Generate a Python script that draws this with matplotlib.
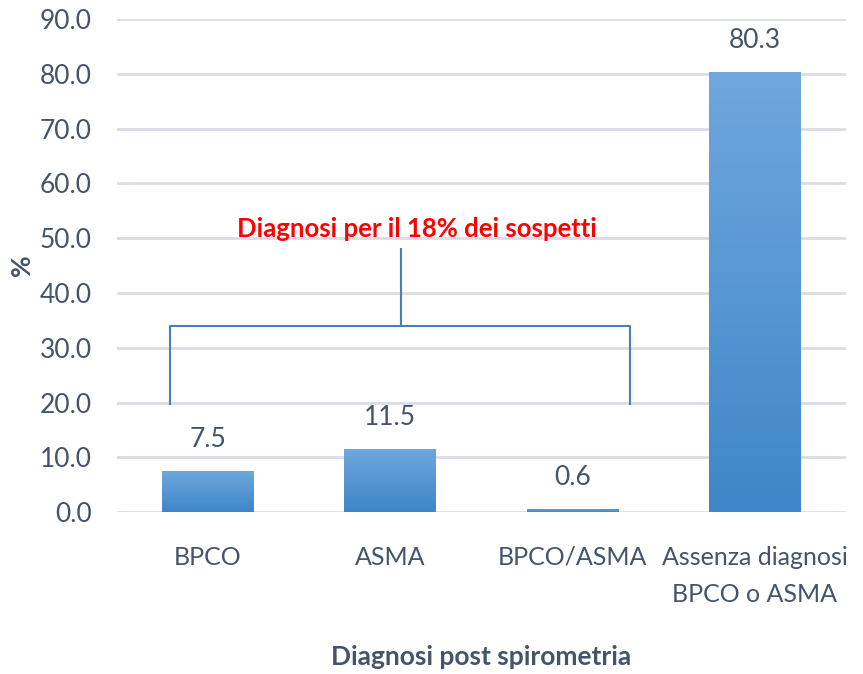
import numpy as np
import matplotlib.pyplot as plt
from matplotlib.patches import Rectangle
from matplotlib.colors import LinearSegmentedColormap

categories = ["BPCO", "ASMA", "BPCO/ASMA", "Assenza diagnosi\nBPCO o ASMA"]
values = [7.5, 11.5, 0.6, 80.3]
yticks = [0, 10, 20, 30, 40, 50, 60, 70, 80, 90]
note = "Diagnosi per il 18% dei sospetti"

plt.rcParams['font.family'] = ['Lato', 'DejaVu Sans']
txt_color = "#44546a"

fig = plt.figure(figsize=(8.63, 6.74), dpi=100)
ax = fig.add_axes([0.135, 0.240, 0.845, 0.732])

x = np.arange(len(categories))
bars = ax.bar(x, values, width=0.5, color="none", zorder=3)

# vertical gradient fill for each bar
grad = np.linspace(0, 1, 256).reshape(-1, 1)
cmap = LinearSegmentedColormap.from_list("blu", ["#3f86c8", "#6fa7dd"])
for b in bars:
    x0, w, h = b.get_x(), b.get_width(), b.get_height()
    im = ax.imshow(grad, extent=[x0, x0 + w, 0, h], origin="lower", cmap=cmap,
                   aspect="auto", zorder=3)
    im.set_clip_path(Rectangle((x0, 0), w, h, transform=ax.transData))

for xi, v in zip(x, values):
    ax.annotate(f"{v:.1f}", (xi, v), xytext=(0, 14), textcoords="offset points",
                ha="center", va="bottom", fontsize=19, color=txt_color)

ax.set_xlim(-0.5, 3.5)
ax.set_ylim(0, 90)
ax.set_yticks(yticks)
ax.set_yticklabels([f"{t:.1f}" for t in yticks])
ax.set_xticks(x)
ax.set_xticklabels(categories, linespacing=1.75)
ax.tick_params(axis="both", length=0, labelsize=18, labelcolor=txt_color)
ax.tick_params(axis="x", pad=24)
ax.tick_params(axis="y", labelsize=19, pad=18)
ax.yaxis.grid(True, color="#d9dde3", linewidth=2, zorder=0)
ax.set_axisbelow(True)
for s in ax.spines.values():
    s.set_visible(False)

# bracket
bc = "#4a7ebb"
ax.plot([-0.206, -0.206, 2.316, 2.316], [19.7, 33.9, 33.9, 19.7], color=bc, lw=1.5, zorder=4)
ax.plot([1.058, 1.058], [33.9, 48.0], color=bc, lw=1.5, zorder=4)
ax.text(1.15, 51.6, note, color="red", fontsize=18.5, fontweight="bold",
        ha="center", va="center", zorder=5)

ax.set_ylabel("%", fontsize=19, fontweight="bold", color=txt_color, labelpad=4)
ax.set_xlabel("Diagnosi post spirometria", fontsize=19, fontweight="bold",
              color=txt_color, labelpad=28)

plt.savefig("out.png", dpi=100)
